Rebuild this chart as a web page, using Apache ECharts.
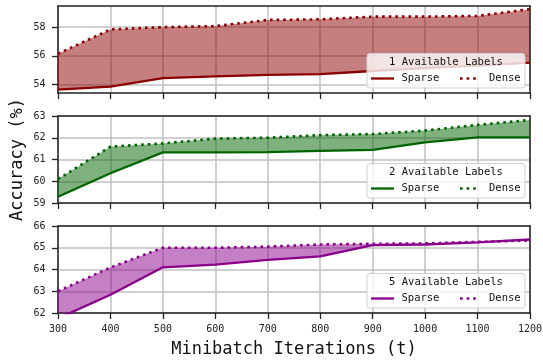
<!DOCTYPE html>
<html>
<head>
<meta charset="utf-8">
<script src="https://cdn.jsdelivr.net/npm/echarts@6/dist/echarts.min.js"></script>
<style>
  html, body { margin: 0; padding: 0; background: #fff; }
  #chart { width: 543px; height: 362px; }
</style>
</head>
<body>
<div id="chart"></div>
<script>
// Minibatch iterations (x) shared by all panels
const iterations = [300, 400, 500, 600, 700, 800, 900, 1000, 1100, 1200];

// 1 available label
const sparse1 = [53.65, 53.86, 54.45, 54.58, 54.68, 54.73, 54.95, 55.15, 55.32, 55.53];
const dense1  = [56.15, 57.84, 58.00, 58.07, 58.50, 58.54, 58.73, 58.73, 58.78, 59.25];

// 2 available labels
const sparse2 = [59.29, 60.37, 61.33, 61.33, 61.34, 61.40, 61.44, 61.79, 62.02, 62.02];
const dense2  = [60.10, 61.59, 61.74, 61.96, 62.00, 62.12, 62.17, 62.33, 62.59, 62.82];

// 5 available labels
const sparse5 = [61.75, 62.84, 64.10, 64.22, 64.44, 64.60, 65.12, 65.15, 65.25, 65.38];
const dense5  = [63.00, 64.09, 65.00, 65.00, 65.05, 65.15, 65.18, 65.20, 65.27, 65.33];

// Tick labels
const xTicks = [300, 400, 500, 600, 700, 800, 900, 1000, 1100, 1200];
const yTicks1 = [54, 56, 58];
const yTicks2 = [59, 60, 61, 62, 63];
const yTicks5 = [62, 63, 64, 65, 66];

const panelNames = ['1 Available Labels', '2 Available Labels', '5 Available Labels'];

const FONT = 'DejaVu Sans Mono';
const panels = [
  { sparse: sparse1, dense: dense1, ticks: yTicks1, min: 53.42, max: 59.47, color: '#8b0000', title: panelNames[0] },
  { sparse: sparse2, dense: dense2, ticks: yTicks2, min: 59, max: 63, color: '#006400', title: panelNames[1] },
  { sparse: sparse5, dense: dense5, ticks: yTicks5, min: 62, max: 66, color: '#8b008b', title: panelNames[2] }
];

const gridTops = [6, 116, 226];
const gridH = 87;
const gridLeft = 58, gridRight = 13;

const grids = [], xAxes = [], yAxes = [], series = [], graphics = [];

panels.forEach((p, i) => {
  grids.push({ left: gridLeft, right: gridRight, top: gridTops[i], height: gridH, outerBoundsMode: 'none', containLabel: false });

  const isBottom = i === panels.length - 1;
  xAxes.push({
    type: 'value', gridIndex: i, min: 300, max: 1200, interval: 100,
    axisLine: { show: true, onZero: false, lineStyle: { color: '#222', width: 1.5 } },
    axisTick: { show: true, length: 6, lineStyle: { color: '#222', width: 1.3 }, customValues: xTicks },
    axisLabel: { show: isBottom, customValues: xTicks, fontFamily: FONT, fontSize: 10, color: '#222', margin: 11.5,
                 formatter: v => String(v) },
    splitLine: { show: true, lineStyle: { color: '#c0c0c0', width: 1.5 } },
    name: isBottom ? 'Minibatch Iterations (t)' : '',
    nameLocation: 'middle', nameGap: 28.5, nameMoveOverlap: false,
    nameTextStyle: { fontFamily: FONT, fontSize: 17, color: '#111' }
  });
  // top spine
  xAxes.push({
    type: 'value', gridIndex: i, min: 300, max: 1200, position: 'top',
    axisLine: { show: true, onZero: false, lineStyle: { color: '#222', width: 1.5 } },
    axisTick: { show: false }, axisLabel: { show: false }, splitLine: { show: false }
  });

  yAxes.push({
    type: 'value', gridIndex: i, min: p.min, max: p.max,
    axisLine: { show: true, onZero: false, lineStyle: { color: '#222', width: 1.5 } },
    axisTick: { show: true, length: 6, lineStyle: { color: '#222', width: 1.3 }, customValues: p.ticks },
    axisLabel: { customValues: p.ticks, fontFamily: FONT, fontSize: 10, color: '#222', margin: 12.5 },
    splitLine: { show: true, lineStyle: { color: '#c0c0c0', width: 1.5 } },
    name: i === 1 ? 'Accuracy (%)' : '',
    nameLocation: 'middle', nameGap: 32, nameMoveOverlap: false,
    nameTextStyle: { fontFamily: FONT, fontSize: 17, color: '#111' }
  });
  // right spine
  yAxes.push({
    type: 'value', gridIndex: i, min: p.min, max: p.max, position: 'right',
    axisLine: { show: true, onZero: false, lineStyle: { color: '#222', width: 1.5 } },
    axisTick: { show: false }, axisLabel: { show: false }, splitLine: { show: false }
  });

  const xi = i * 2, yi = i * 2;

  // shaded region between the sparse and dense curves
  series.push({
    type: 'custom', xAxisIndex: xi, yAxisIndex: yi, silent: true, z: 1,
    data: iterations.map((x, k) => [x, p.sparse[k], p.dense[k]]),
    renderItem: (params, api) => {
      if (params.dataIndex !== 0) return null;
      const top = iterations.map((x, k) => api.coord([x, p.dense[k]]));
      const bottom = iterations.map((x, k) => api.coord([x, p.sparse[k]])).reverse();
      const cs = params.coordSys;
      return {
        type: 'polygon',
        shape: { points: top.concat(bottom) },
        style: { fill: p.color, opacity: 0.5 },
        clipPath: { type: 'rect', shape: { x: cs.x, y: cs.y, width: cs.width, height: cs.height } }
      };
    }
  });
  series.push({
    name: 'Sparse', type: 'line', xAxisIndex: xi, yAxisIndex: yi,
    data: iterations.map((x, k) => [x, p.sparse[k]]),
    symbol: 'none', lineStyle: { color: p.color, width: 2.3 }, z: 3
  });
  series.push({
    name: 'Dense', type: 'line', xAxisIndex: xi, yAxisIndex: yi,
    data: iterations.map((x, k) => [x, p.dense[k]]),
    symbol: 'none', lineStyle: { color: p.color, width: 2.6, type: [2.6, 4], cap: 'butt' }, z: 3
  });

  // legend box
  const by = gridTops[i] + 47.5;
  graphics.push({
    type: 'rect', shape: { x: 367, y: by, width: 158, height: 34.5, r: 3 },
    style: { fill: 'rgba(255,255,255,0.8)', stroke: '#d0d0d0', lineWidth: 1 }, z: 100
  });
  graphics.push({
    type: 'text', x: 446, y: by + 9, z: 101,
    style: { text: p.title, fontFamily: FONT, fontSize: 10.5, fill: '#111', align: 'center', verticalAlign: 'middle' }
  });
  graphics.push({
    type: 'line', shape: { x1: 371, y1: by + 25, x2: 394, y2: by + 25 }, z: 101,
    style: { stroke: p.color, lineWidth: 2.3 }
  });
  graphics.push({
    type: 'text', x: 401.5, y: by + 25, z: 101,
    style: { text: 'Sparse', fontFamily: FONT, fontSize: 10.5, fill: '#111', align: 'left', verticalAlign: 'middle' }
  });
  graphics.push({
    type: 'line', shape: { x1: 460, y1: by + 25, x2: 478, y2: by + 25 }, z: 101,
    style: { stroke: p.color, lineWidth: 2.6, lineDash: [2.6, 4] }
  });
  graphics.push({
    type: 'text', x: 489, y: by + 25, z: 101,
    style: { text: 'Dense', fontFamily: FONT, fontSize: 10.5, fill: '#111', align: 'left', verticalAlign: 'middle' }
  });
});

const chart = echarts.init(document.getElementById('chart'), null, { renderer: 'canvas' });
chart.setOption({
  animation: false,
  backgroundColor: '#fff',
  grid: grids,
  xAxis: xAxes,
  yAxis: yAxes,
  series: series,
  graphic: graphics
});
</script>
</body>
</html>
